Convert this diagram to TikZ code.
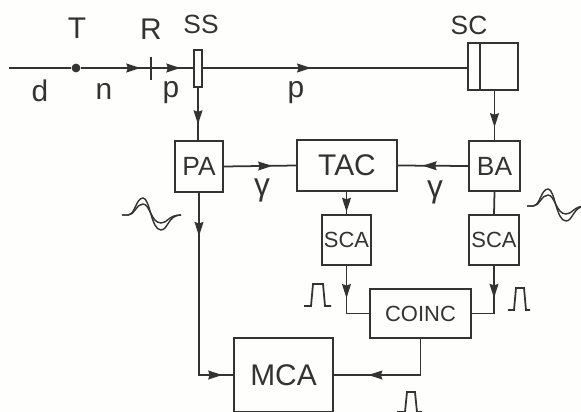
\documentclass[tikz,border=0pt]{standalone}
\usepackage{fontspec}
\setmainfont{Liberation Sans}
\usetikzlibrary{arrows.meta,decorations.markings}
\definecolor{ink}{HTML}{333333}
\definecolor{paper}{HTML}{FEFEFC}
\tikzset{
	block/.style={draw=ink,line width=1pt,inner sep=0pt,text=ink},
	lbl/.style={text=ink,inner sep=0pt,font=\fontsize{15}{15}\selectfont},
	big/.style={font=\fontsize{17}{17}\selectfont},
	small/.style={font=\fontsize{12.5}{13}\selectfont},
	wire/.style={draw=ink,line width=1pt},
	midtip/.style={postaction={decorate,decoration={markings,
		mark=at position #1 with {\arrow[ink]{Stealth[length=8pt,width=5pt,inset=.8pt]}}}}},
}
\begin{document}
\begin{tikzpicture}[x=.02cm,y=-.02cm]
	\useasboundingbox[fill=paper](0,0) rectangle (581,412);
	% detectors and beam
	\node[block,minimum width=.16cm,minimum height=.74cm](ss)at(198,68.5){};
	\node[block,minimum width=1cm,minimum height=.94cm](sc)at(493,66.5){};
	\coordinate(scin)at(480,43);
	\draw[wire](scin)--(scin|-sc.south);
	\coordinate(start)at(9,68);
	\node[circle,fill=ink,inner sep=0pt,minimum size=5pt](target)at(76,68){};
	\coordinate(rad1)at(151,57);
	\coordinate(rad2)at(151,80);
	\draw[line width=1.2pt,ink](rad1)--(rad2);
	\draw[wire](start)--(target);
	\draw[wire,midtip=.85](target)--(151,68);
	\draw[wire,midtip=.7](151,68)--(ss.west|-0,68);
	\draw[wire,midtip=.41](ss.east|-0,68)--(sc.west|-0,68);
	% blocks
	\node[block,minimum width=.96cm,minimum height=1.02cm,lbl](pa)at(199,166.5){PA};
	\node[block,minimum width=2cm,minimum height=1.02cm,lbl,big](tac)at(347,165.5){TAC};
	\node[block,minimum width=1.02cm,minimum height=1cm,lbl](ba)at(494.5,166){BA};
	\node[block,minimum width=.98cm,minimum height=1cm,lbl,small](sca1)at(346.5,240){SCA};
	\node[block,minimum width=1cm,minimum height=1cm,lbl,small](sca2)at(494,240){SCA};
	\node[block,minimum width=2.02cm,minimum height=.98cm,lbl,small](coinc)at(420.5,313.5){COINC};
	\node[block,minimum width=1.98cm,minimum height=1.48cm,lbl,big](mca)at(283.5,375){MCA};
	% connections
	\draw[wire,midtip=.7](ss.south)--(pa.north-|ss.south);
	\draw[wire,midtip=.74](sc.south-|ba.north)--(ba.north);
	\draw[wire,midtip=.65](ba.west)--(tac.east);
	\draw[wire,midtip=.67](pa.east)--(tac.west);
	\draw[wire,midtip=.9](tac.south-|sca1.north)--(sca1.north);
	\draw[wire](ba.south)--(sca2.north);
	\coordinate(sca1c)at(sca1.south|-coinc.west);
	\coordinate(sca2c)at(sca2.south|-coinc.east);
	\coordinate(coincm)at(coinc.south|-mca.east);
	\coordinate(pam)at(pa.south|-mca.west);
	\draw[wire,midtip=.46](sca1.south)--(sca1c)--(coinc.west);
	\draw[wire,midtip=.46](sca2.south)--(sca2c)--(coinc.east);
	\draw[wire,midtip=.72](coinc.south)--(coincm)--(mca.east);
	\draw[wire,midtip=.2,midtip=.95](pa.south)--(pam)--(mca.west);
	% labels
	\foreach \name/\xpos/\ypos/\txt in {t/77/28/T,r/151/29/R,d/40/91/d,n/104/91/n,p1/171/93/p,p2/296/93/p}
		\node[lbl,big](lab\name)at(\xpos,\ypos){\txt};
	\node[lbl](labss)at(201,24){SS};
	\node[lbl](labsc)at(469,25){SC};
	\node[lbl,font=\fontsize{18}{18}\selectfont](g1)at(262,190){γ};
	\node[lbl,font=\fontsize{18}{18}\selectfont](g2)at(435,192){γ};
	% pulses
	\draw[wire](304,306)--(311,306)--(313,284)--(323,284)--(325,306)--(331,306);
	\draw[wire](508,310)--(514,310)--(516,288)--(524,288)--(526,310)--(530,310);
	\draw[wire](397,412)--(405,412)--(407,392)--(415,392)--(417,412)--(422,412);
	% waveforms
	\foreach \xs/\ys in {122/215,527/206}
		\foreach \amp/\dip in {-17/15,-11/8}
			\draw[wire,line width=.8pt,shift={(\xs,\ys)}](0,0)--(6,0)..controls(13,0)and(14,\amp)..(21,\amp)
				..controls(28,\amp)and(29,\dip)..(39,\dip)..controls(46,\dip)and(46,0)..(59,0);
\end{tikzpicture}
\end{document}
